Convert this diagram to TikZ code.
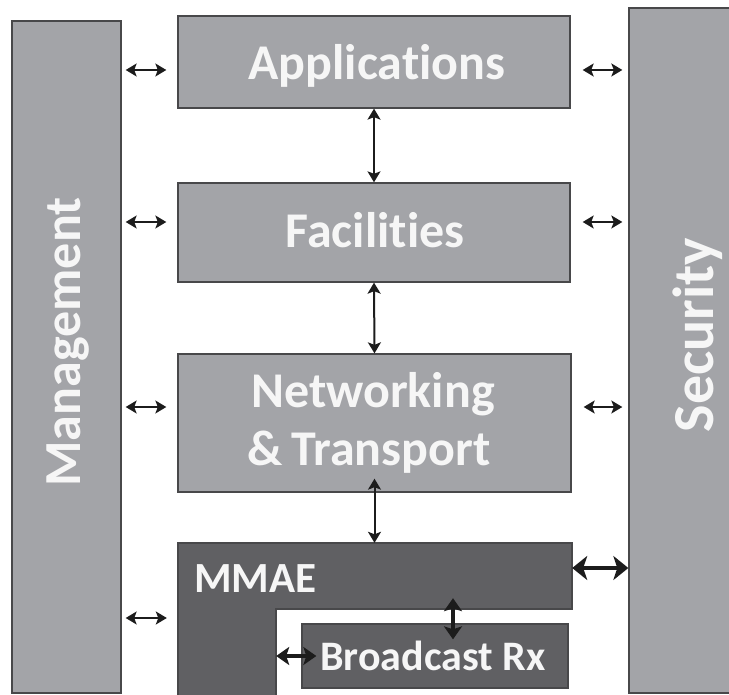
\documentclass[tikz,border=0pt]{standalone}
\usepackage{fontspec}
\setmainfont{Carlito}[Ligatures={NoCommon,NoRare,NoDiscretionary,NoContextual}]
\usetikzlibrary{arrows.meta}
\definecolor{lightfill}{RGB}{163,164,168}
\definecolor{darkfill}{RGB}{96,96,99}
\definecolor{edgecol}{RGB}{72,72,74}
\definecolor{txtcol}{RGB}{246,246,246}
\definecolor{arrcol}{RGB}{28,28,28}
\tikzset{
  lightbox/.style={draw=edgecol, line width=1.3pt, fill=lightfill, inner sep=0pt},
  darkbox/.style={draw=edgecol, line width=1.3pt, fill=darkfill, inner sep=0pt},
  hidden/.style={inner sep=0pt},
  lbl/.style={text=txtcol, inner sep=0pt, font=\bfseries\fontsize{50}{58}\selectfont},
  thinarr/.style={draw=arrcol, line width=2pt, {Stealth[length=11pt,width=13pt,inset=2.5pt]}-{Stealth[length=11pt,width=13pt,inset=2.5pt]}},
  thickarr/.style={draw=arrcol, line width=4.5pt, {Stealth[length=15pt,width=24pt,inset=4pt]}-{Stealth[length=15pt,width=24pt,inset=4pt]}},
  midarr/.style={draw=arrcol, line width=4pt, {Stealth[length=13pt,width=18pt,inset=3pt]}-{Stealth[length=13pt,width=18pt,inset=3pt]}}
}
\begin{document}
\begin{tikzpicture}[x=1pt,y=-1pt]
\useasboundingbox (0,0) rectangle (729,695);
% side bars
\node[lightbox, minimum width=109pt, minimum height=672pt] (mgmt) at (66.5,357) {};
\node[lightbox, minimum width=131pt, minimum height=685pt] (sec) at (694.5,350.5) {};
% layer boxes
\node[lightbox, minimum width=392pt, minimum height=92pt] (app) at (374,62) {};
\node[lightbox, minimum width=392pt, minimum height=99pt] (fac) at (374,232.5) {};
\node[lightbox, minimum width=393pt, minimum height=138pt] (net) at (374.5,423) {};
% MMAE L-shape
\draw[darkbox] (178,543) -| (572,609) -| (276,700) -| cycle;
\node[hidden, minimum width=394pt, minimum height=66pt] (mmae) at (375,576) {};
\node[hidden, minimum width=98pt, minimum height=86pt] (leg) at (227,652) {};
\node[darkbox, minimum width=266pt, minimum height=64pt] (bc) at (435,656) {};
% labels
\node[lbl, anchor=base] (tapp) at (377,80) {Applications};
\node[lbl, anchor=base] (tfac) at (375,248) {Facilities};
\node[lbl, anchor=base] (tnet1) at (373,407) {Networking};
\node[lbl, anchor=base] (tnet2) at (369,465) {\&\,Transport};
\node[lbl, anchor=base west, font=\bfseries\fontsize{43}{50}\selectfont] (tmmae) at (194,592) {MMAE};
\node[lbl, anchor=base, font=\bfseries\fontsize{42}{50}\selectfont] (tbc) at (433,670) {Broadcast Rx};
\node[lbl, anchor=base, rotate=90, font=\bfseries\fontsize{52}{60}\selectfont] (tmgmt) at (80,342) {Management};
\node[lbl, anchor=base, rotate=90, font=\bfseries\fontsize{58}{66}\selectfont] (tsec) at (713,335) {Security};
% coordinates for offset connectors
\coordinate (appy) at ([yshift=-8pt]app.west);
\coordinate (facy) at ([yshift=10.5pt]fac.west);
\coordinate (nety) at ([yshift=16pt]net.west);
\coordinate (legy) at ([yshift=34pt]leg.west);
\coordinate (appr) at ([yshift=-8pt]app.east);
\coordinate (facr) at ([yshift=10.5pt]fac.east);
\coordinate (netr) at ([yshift=16pt]net.east);
\coordinate (ms) at ([yshift=8pt]mmae.east);
\coordinate (bcv) at ([xshift=18pt]bc.north);
% management arrows
\draw[thinarr, shorten <=4pt, shorten >=11pt] (mgmt.east |- appy) -- (appy);
\draw[thinarr, shorten <=4pt, shorten >=11pt] (mgmt.east |- facy) -- (facy);
\draw[thinarr, shorten <=4pt, shorten >=11pt] (mgmt.east |- nety) -- (nety);
\draw[thinarr, shorten <=4pt, shorten >=11pt] (mgmt.east |- legy) -- (legy);
% security arrows
\draw[thinarr, shorten <=12pt, shorten >=6pt] (appr) -- (appr -| sec.west);
\draw[thinarr, shorten <=12pt, shorten >=6pt] (facr) -- (facr -| sec.west);
\draw[thinarr, shorten <=12pt, shorten >=6pt] (netr) -- (netr -| sec.west);
\draw[thickarr] (ms) -- (ms -| sec.west);
% vertical stack arrows
\draw[thinarr] (app.south) -- (fac.north);
\draw[thinarr] (fac.south) -- (net.north);
\draw[thinarr, shorten <=-14pt] (net.south) -- (net.south |- mmae.north);
% MMAE to Broadcast Rx
\draw[midarr, shorten <=-11pt, shorten >=-16pt] (bcv |- mmae.south) -- (bcv);
\draw[midarr, shorten >=-15pt] (bc.west -| leg.east) -- (bc.west);
\end{tikzpicture}
\end{document}
